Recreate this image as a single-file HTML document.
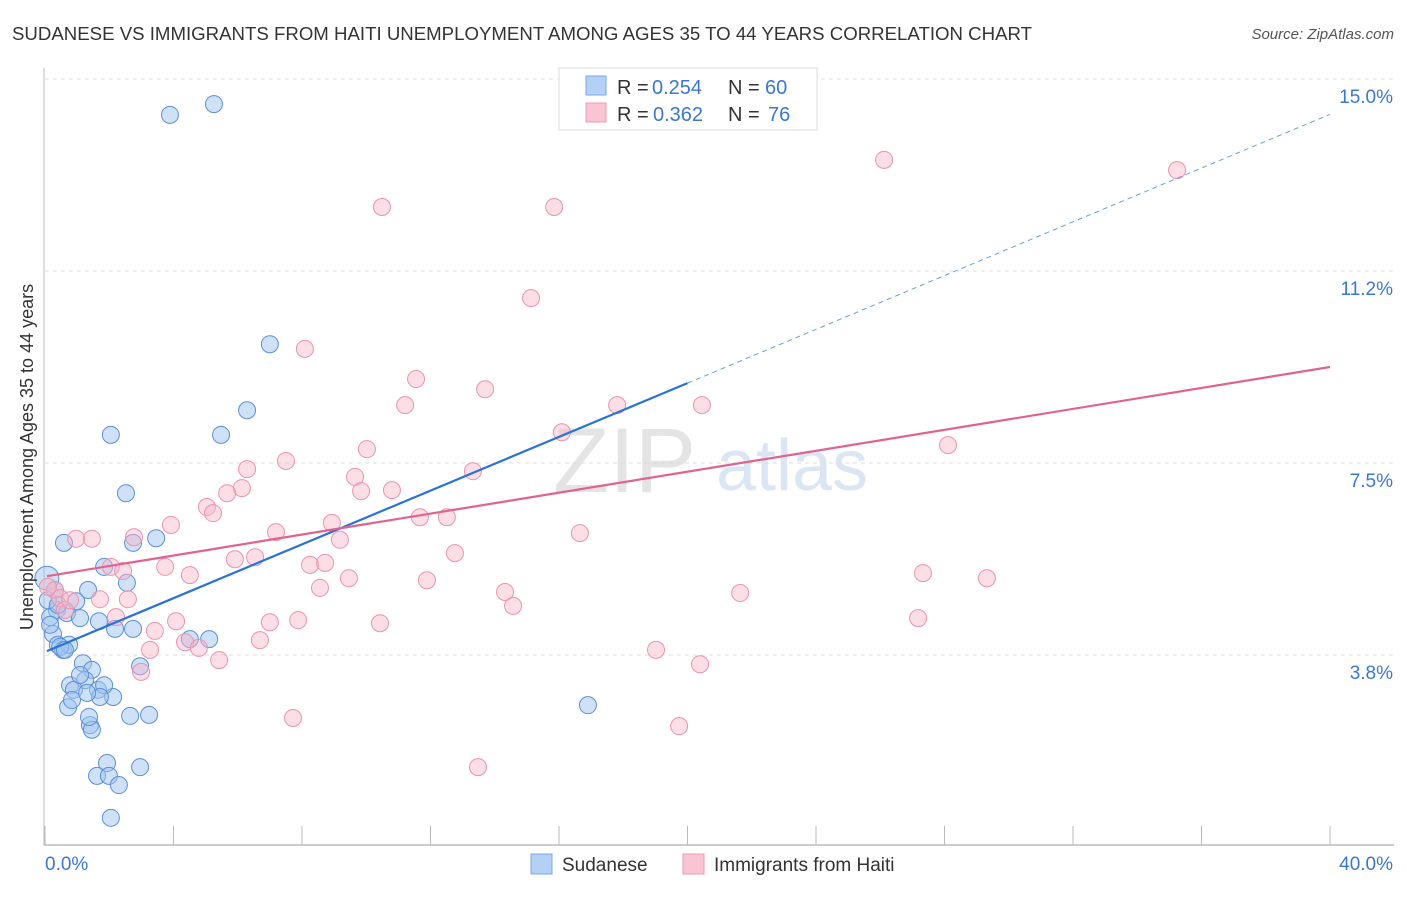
<!DOCTYPE html>
<html><head><meta charset="utf-8"><style>
body{margin:0;background:#fff;font-family:"Liberation Sans",sans-serif;}
svg text{font-family:"Liberation Sans",sans-serif;}
</style></head><body>
<svg id="chart" width="1406" height="892" xmlns="http://www.w3.org/2000/svg">
<text x="12" y="40" font-size="18" fill="#333" textLength="1020" lengthAdjust="spacingAndGlyphs">SUDANESE VS IMMIGRANTS FROM HAITI UNEMPLOYMENT AMONG AGES 35 TO 44 YEARS CORRELATION CHART</text>
<text x="1394" y="39" font-size="15" fill="#555" text-anchor="end" font-style="italic">Source: ZipAtlas.com</text>
<text x="553" y="492" font-size="92" fill="#e4e4e4" font-family="Liberation Serif">ZIP</text>
<text x="716" y="490" font-size="72" fill="#dbe6f5">atlas</text>
<g id="grid"></g>
<g id="axes"></g>
<g id="marks"></g>
<text transform="translate(33,457) rotate(-90)" font-size="18" fill="#333" text-anchor="middle">Unemployment Among Ages 35 to 44 years</text>
<g>
<rect x="559" y="68" width="258" height="62" fill="#fff" stroke="#ddd"/>
<rect x="586" y="76" width="20" height="19" fill="#b5d0f5" stroke="#7aa8e8"/>
<rect x="586" y="103" width="20" height="19" fill="#f9c4d3" stroke="#ee9ab4"/>
<text x="617" y="94" font-size="20" fill="#333">R =</text>
<text x="652" y="94" font-size="20" fill="#3a78d0">0.254</text>
<text x="728" y="94" font-size="20" fill="#333">N =</text>
<text x="765" y="94" font-size="20" fill="#3a78d0">60</text>
<text x="617" y="121" font-size="20" fill="#333">R =</text>
<text x="653" y="121" font-size="20" fill="#3a78d0">0.362</text>
<text x="728" y="121" font-size="20" fill="#333">N =</text>
<text x="768" y="121" font-size="20" fill="#3a78d0">76</text>
</g>
<g>
<rect x="531" y="854" width="21" height="20" fill="#b5d0f5" stroke="#7aa8e8"/>
<text x="562" y="871" font-size="19" fill="#333">Sudanese</text>
<rect x="683" y="854" width="21" height="20" fill="#f9c4d3" stroke="#ee9ab4"/>
<text x="714" y="871" font-size="19" fill="#333">Immigrants from Haiti</text>
</g>
</svg>
<script>
const yTicks=[3.75,7.5,11.25,15];
const yTickLabels=["3.8%","7.5%","11.2%","15.0%"];
const xTicks=[0,4,8,12,16,20,24,28,32,36,40];
const sudX=[3.89,5.26,7.00,6.29,2.05,5.48,2.52,0.59,2.74,3.46,1.84,2.55,0.06,1.34,0.97,0.37,0.68,0.16,1.09,1.68,2.18,2.74,4.51,5.11,0.25,0.40,0.56,0.75,1.18,1.46,0.78,1.25,1.65,2.12,0.90,1.84,0.72,1.71,2.96,1.40,1.46,2.65,3.24,1.93,1.62,1.99,2.30,2.96,2.05,16.90,0.16,0.47,1.09,0.84,1.31,0.09,0.31,1.37,0.40,0.62];
const sudY=[14.30,14.51,9.82,8.53,8.05,8.05,6.91,5.94,5.94,6.03,5.47,5.16,5.25,5.02,4.80,4.63,4.57,4.49,4.47,4.41,4.26,4.26,4.06,4.06,4.16,3.95,3.85,3.95,3.59,3.46,3.16,3.26,3.07,2.93,3.07,3.16,2.73,2.93,3.53,2.38,2.29,2.56,2.58,1.64,1.39,1.39,1.21,1.56,0.57,2.77,4.34,3.91,3.36,2.87,3.01,4.82,5.02,2.54,4.73,3.85];
const haiX=[26.12,35.24,10.49,15.85,15.13,8.09,11.55,11.21,13.70,17.81,20.45,16.09,10.02,28.11,6.29,7.50,13.32,9.65,6.13,5.67,9.84,10.80,5.04,5.23,3.92,8.93,11.67,12.51,7.19,16.65,0.97,1.46,2.77,9.18,12.76,5.91,6.54,8.25,8.72,2.05,3.74,4.51,2.43,9.46,11.89,27.33,29.32,0.31,0.47,8.56,14.32,21.64,1.71,2.58,14.57,0.62,2.21,4.08,7.00,7.88,10.43,27.18,3.42,4.36,4.79,6.69,3.27,5.42,19.02,20.39,2.99,7.72,19.74,13.48,0.09,0.78];
const haiY=[13.42,13.22,12.50,12.50,10.72,9.73,9.14,8.63,8.94,8.63,8.63,8.10,7.77,7.85,7.38,7.54,7.34,7.23,7.01,6.91,6.95,6.97,6.64,6.52,6.29,6.33,6.44,6.44,6.15,6.13,6.02,6.02,6.05,6.00,5.74,5.62,5.66,5.51,5.55,5.47,5.47,5.31,5.39,5.25,5.21,5.35,5.25,5.02,4.86,5.06,4.98,4.96,4.84,4.84,4.71,4.63,4.49,4.41,4.39,4.43,4.37,4.47,4.22,4.00,3.89,4.04,3.85,3.65,3.85,3.57,3.42,2.52,2.36,1.56,5.08,4.82];
const sudLine=[0,3.81,40,14.31];
const sudSolidEnd=20;
const haiLine=[0,5.29,40,9.375];
const NS="http://www.w3.org/2000/svg";
const X=v=>45+v/40*1285, Y=v=>847-v/3.75*192;
function mk(t,a,p){const e=document.createElementNS(NS,t);for(const k in a)e.setAttribute(k,a[k]);p.appendChild(e);return e;}
const grid=document.getElementById('grid'),axes=document.getElementById('axes'),marks=document.getElementById('marks');
yTicks.forEach((v,i)=>{const l=mk('line',{x1:45,x2:1394,y1:Y(v),y2:Y(v),stroke:'#ddd','stroke-dasharray':'4,4'},grid);

const t=mk('text',{x:1393,y:Y(v)+24,'font-size':19,fill:'#3a78d0','text-anchor':'end'},axes);t.textContent=yTickLabels[i];
});
const ax=mk('line',{x1:44,x2:44,y1:68,y2:845,stroke:'#bbb'},axes);
const bx=mk('line',{x1:44,x2:1394,y1:845,y2:845,stroke:'#bbb','stroke-width':1.5},axes);
xTicks.forEach(v=>{const l=mk('line',{x1:X(v),x2:X(v),y1:826,y2:845,stroke:'#bbb'},axes);});
const xl0=mk('text',{x:45,y:870,'font-size':19,fill:'#3a78d0'},axes);xl0.textContent='0.0%';
const xl1=mk('text',{x:1393,y:870,'font-size':19,fill:'#3a78d0','text-anchor':'end'},axes);xl1.textContent='40.0%';
sudX.forEach((v,i)=>{const c=mk('circle',{cx:X(v),cy:Y(sudY[i]),r:i==12?12:8.5,fill:'rgba(160,196,240,0.5)',stroke:'#5b8fd8','stroke-width':1},marks);
});
haiX.forEach((v,i)=>{const c=mk('circle',{cx:X(v),cy:Y(haiY[i]),r:8.5,fill:'rgba(246,182,200,0.45)',stroke:'#eb93ae','stroke-width':1},marks);
});
const sl=(x)=>sudLine[1]+(sudLine[3]-sudLine[1])*(x-sudLine[0])/(sudLine[2]-sudLine[0]);
const a=mk('line',{x1:X(0.06),y1:Y(sl(0.06)),x2:X(sudSolidEnd),y2:Y(sl(sudSolidEnd)),stroke:'#2a72d4','stroke-width':2.2},marks);

const b=mk('line',{x1:X(sudSolidEnd),y1:Y(sl(sudSolidEnd)),x2:X(40),y2:Y(sl(40)),stroke:'#6a9ee0','stroke-width':1,'stroke-dasharray':'5,4'},marks);

const h=mk('line',{x1:X(0.06),y1:Y(haiLine[1]),x2:X(40),y2:Y(haiLine[3]),stroke:'#e2628e','stroke-width':2.2},marks);

</script>
</body></html>
